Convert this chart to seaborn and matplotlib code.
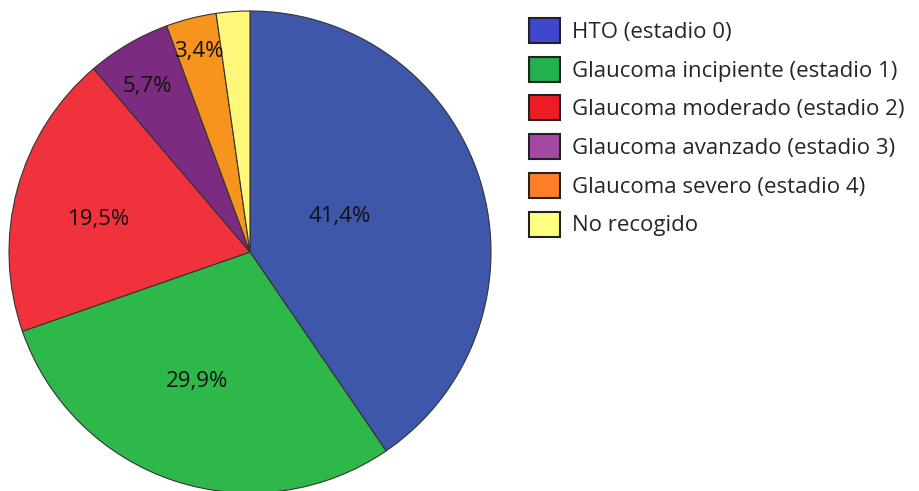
import matplotlib
matplotlib.use("Agg")
import matplotlib.pyplot as plt
import matplotlib.patches as mpatches
import numpy as np
import seaborn as sns

categories = ["HTO (estadio 0)", "Glaucoma incipiente (estadio 1)",
              "Glaucoma moderado (estadio 2)", "Glaucoma avanzado (estadio 3)",
              "Glaucoma severo (estadio 4)", "No recogido"]
counts = [36, 26, 17, 5, 3, 2]
pct_labels = ["41,4%", "29,9%", "19,5%", "5,7%", "3,4%", ""]
pie_colors = ["#3E57AA", "#2FB84A", "#F0323C", "#7D2B80", "#F7941D", "#FFF77A"]
legend_colors = ["#3F48CC", "#22B14C", "#ED1C24", "#A349A4", "#FF7F27", "#FFFF80"]

sns.set_theme(style="white")
plt.rcParams["font.family"] = ["Open Sans", "DejaVu Sans"]

W, H = 920, 491
fig = plt.figure(figsize=(W / 100, H / 100), dpi=100)
ax = fig.add_axes([0, 0, 1, 1])

cx, cy, r = 250, H - 252, 241
wedges, _ = ax.pie(counts, colors=pie_colors, startangle=90, counterclock=False,
                   center=(cx, cy), radius=r, frame=True,
                   wedgeprops=dict(edgecolor="#333333", linewidth=0.8))
ax.set_xlim(0, W)
ax.set_ylim(0, H)
ax.set_aspect("equal")
ax.axis("off")

dist = [0.40, 0.58, 0.64, 0.81, 0.86, 0.5]
ang_off = [4.5, -4, 3, 1.5, 0, 0]
for w, lab, d, ao in zip(wedges, pct_labels, dist, ang_off):
    if not lab:
        continue
    mid = np.deg2rad((w.theta1 + w.theta2) / 2 + ao)
    ax.text(cx + d * r * np.cos(mid), cy + d * r * np.sin(mid), lab,
            ha="center", va="center", fontsize=16, color="#111111")

handles = [mpatches.Patch(facecolor=c, edgecolor="#222222", linewidth=1.5)
           for c in legend_colors]
fig.legend(handles, categories, loc="upper left", bbox_to_anchor=(529 / W, 1 - 18 / H),
           frameon=False, fontsize=16, handlelength=1.4, handleheight=1.35,
           handletextpad=0.55, labelspacing=0.62, borderaxespad=0, borderpad=0)

fig.savefig("out.png", dpi=100)
